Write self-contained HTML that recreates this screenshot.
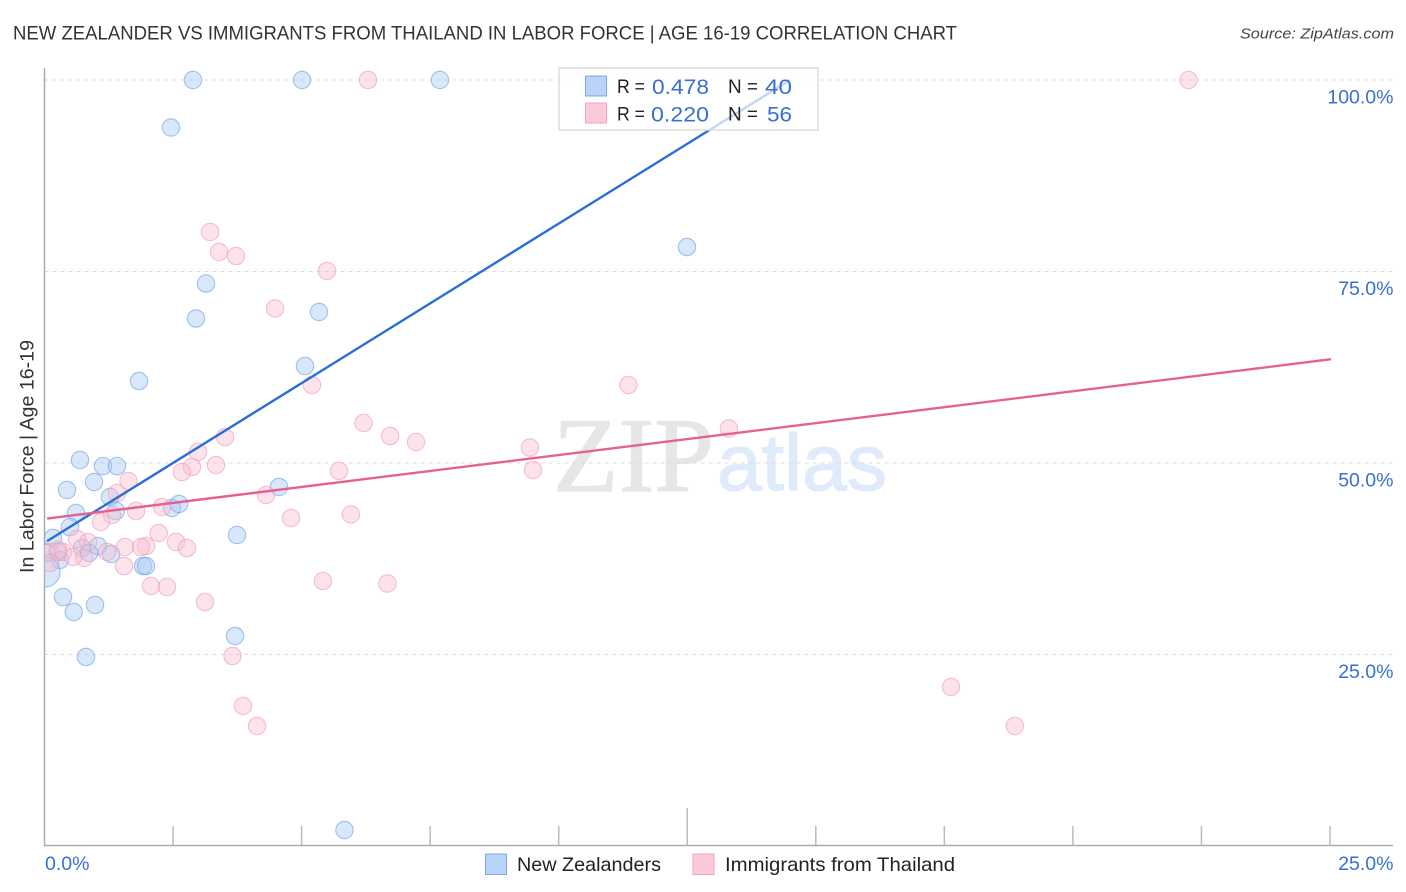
<!DOCTYPE html>
<html lang="en">
<head>
<meta charset="utf-8">
<title>New Zealander vs Immigrants from Thailand in Labor Force Correlation Chart</title>
<style>
html,body{margin:0;padding:0;background:#fff;width:1406px;height:892px;overflow:hidden}
svg{display:block}
text{font-family:"Liberation Sans",sans-serif}
</style>
</head>
<body>
<svg id="chart" width="1406" height="892" viewBox="0 0 1406 892" xmlns="http://www.w3.org/2000/svg">
  <defs>
    <clipPath id="plot-clip"><rect x="44.5" y="60" width="1349" height="786"/></clipPath>
  </defs>
  <text x="13" y="39.5" font-size="19.5" fill="#333" textLength="944" lengthAdjust="spacingAndGlyphs">NEW ZEALANDER VS IMMIGRANTS FROM THAILAND IN LABOR FORCE | AGE 16-19 CORRELATION CHART</text>
  <text x="1394" y="38.5" font-size="15" font-style="italic" fill="#444" text-anchor="end" textLength="154" lengthAdjust="spacingAndGlyphs">Source: ZipAtlas.com</text>

  <g>
    <text x="553" y="491" font-size="106" fill="#e6e6e6" stroke="#e6e6e6" stroke-width="1.2" style="font-family:'Liberation Serif',serif" textLength="161" lengthAdjust="spacingAndGlyphs">ZIP</text>
    <text x="717" y="490" font-size="80" fill="#dfeafa" stroke="#dfeafa" stroke-width="1.2" textLength="170" lengthAdjust="spacingAndGlyphs">atlas</text>
  </g>

  <g id="grid"></g>
  <g id="axes"></g>
  <g id="points" clip-path="url(#plot-clip)"></g>
  <g id="trends"></g>
  <g id="labels"></g>

  <text transform="translate(33.5,456.5) rotate(-90)" font-size="19" fill="#333" text-anchor="middle" textLength="233" lengthAdjust="spacingAndGlyphs">In Labor Force | Age 16-19</text>

  <g>
    <rect x="559" y="68" width="259" height="62" fill="#fff" fill-opacity="0.72" stroke="#ddd" stroke-width="1.5"/>
    <rect x="585.5" y="76" width="21" height="20" fill="#b9d4f8" stroke="#7fa6e0" stroke-width="1"/>
    <rect x="585.5" y="103" width="21" height="20" fill="#fcc9da" stroke="#f0a5bf" stroke-width="1"/>
    <text x="617" y="93" font-size="19" fill="#222" textLength="28" lengthAdjust="spacingAndGlyphs">R =</text>
    <text x="652" y="94" font-size="21.5" fill="#3a6fd0" textLength="57" lengthAdjust="spacingAndGlyphs">0.478</text>
    <text x="728" y="93" font-size="19" fill="#222" textLength="30" lengthAdjust="spacingAndGlyphs">N =</text>
    <text x="765" y="94" font-size="21.5" fill="#3a6fd0" textLength="27" lengthAdjust="spacingAndGlyphs">40</text>
    <text x="617" y="120.5" font-size="19" fill="#222" textLength="28" lengthAdjust="spacingAndGlyphs">R =</text>
    <text x="651" y="121.5" font-size="21.5" fill="#3a6fd0" textLength="58" lengthAdjust="spacingAndGlyphs">0.220</text>
    <text x="728" y="120.5" font-size="19" fill="#222" textLength="30" lengthAdjust="spacingAndGlyphs">N =</text>
    <text x="767" y="121.5" font-size="21.5" fill="#3a6fd0" textLength="25" lengthAdjust="spacingAndGlyphs">56</text>
  </g>

  <g>
    <rect x="485.5" y="854" width="21" height="20.5" fill="#b9d4f8" stroke="#7fa6e0" stroke-width="1"/>
    <text x="517" y="871" font-size="19.5" fill="#222" textLength="144" lengthAdjust="spacingAndGlyphs">New Zealanders</text>
    <rect x="693" y="854" width="21" height="20.5" fill="#fcc9da" stroke="#f0a5bf" stroke-width="1"/>
    <text x="725" y="871" font-size="19.5" fill="#222" textLength="230" lengthAdjust="spacingAndGlyphs">Immigrants from Thailand</text>
  </g>
</svg>
<script>
const yGridValues = [100, 75, 50, 25];
const yTickLabels = ["100.0%", "75.0%", "50.0%", "25.0%"];
const xTickValues = [0, 2.5, 5, 7.5, 10, 12.5, 15, 17.5, 20, 22.5, 25];
const xEdgeLabels = ["0.0%", "25.0%"];

const blueX = [2.888,5.008,7.69,2.46,12.495,3.14,2.946,5.338,5.066,1.838,0.69,1.138,1.41,0.963,0.438,1.274,1.39,0.613,2.48,2.616,4.56,0.496,3.744,0.165,1.04,0.73,0.865,1.293,0.263,0.30,0.05,1.916,1.974,0.36,0.982,0.568,3.705,0.807,5.834,0.01];
const blueY = [100,100,100,93.8,78.2,73.43,68.86,69.71,62.66,60.7,50.39,49.6,49.6,47.52,46.48,45.56,43.73,43.47,44.13,44.65,46.87,41.64,40.6,40.21,39.16,38.9,38.25,38.12,38.38,37.34,38.25,36.55,36.55,32.5,31.46,30.55,27.42,24.67,2.09,35.77];
const blueWeight = [1,1,1,1,1,1,1,1,1,1,1,1,1,1,1,1,1,1,1,1,1,1,1,1,1,1,1,1,1,1,1,1,1,1,1,1,1,1,1,3];

const pinkX = [6.29,22.25,3.219,3.394,3.724,5.494,4.483,5.202,11.357,6.204,13.31,3.51,6.72,7.225,9.44,2.985,2.868,3.335,2.674,5.727,9.5,1.634,1.41,4.308,1.313,1.78,2.285,1.099,4.794,5.96,2.221,2.557,2.771,1.974,1.877,0.846,0.632,1.566,1.215,0.36,0.768,0.554,1.546,2.071,2.382,5.416,6.67,3.121,3.656,17.63,3.86,4.133,18.87,0.107,0.263,0.107];
const pinkY = [100,100,80.16,77.55,77.02,75.07,70.17,60.18,60.18,55.22,54.5,53.39,53.52,52.74,52.02,51.44,49.48,49.74,48.83,48.96,49.09,47.65,46.08,45.82,43.21,43.73,44.26,42.3,42.82,43.28,40.86,39.69,38.9,39.16,39.03,39.69,40.08,39.03,38.38,38.38,37.6,37.73,36.55,33.94,33.81,34.6,34.27,31.85,24.8,20.76,18.28,15.67,15.67,38.38,38.64,36.95];

const blueTrendX = [0.05, 14.5];
const blueTrendY = [39.8, 100];
const pinkTrendX = [0.05, 25.02];
const pinkTrendY = [42.75, 63.55];

function xScale(v) { return 44.5 + v * 51.42; }
function yScale(v) { return 846 - v * 7.66; }
const SVG_NS = "http://www.w3.org/2000/svg";
function make(tag, parent, attrs) {
  const el = document.createElementNS(SVG_NS, tag);
  for (const k in attrs) el.setAttribute(k, attrs[k]);
  parent.appendChild(el);
  return el;
}

const gridG = document.getElementById("grid");
const axesG = document.getElementById("axes");
const pointsG = document.getElementById("points");
const trendsG = document.getElementById("trends");
const labelsG = document.getElementById("labels");

yGridValues.forEach(function (v, i) {
  const line = make("line", gridG, {x1: 44.5, x2: 1393, y1: yScale(v), y2: yScale(v), stroke: "#dcdcdc", "stroke-width": 1, "stroke-dasharray": "4 4"});
  
  
  const label = make("text", labelsG, {x: 1393.5, y: yScale(v) + 23.5, "font-size": 19.5, fill: "#3a6fd0", "text-anchor": "end"});
  
  
  label.textContent = yTickLabels[i];
});

const yAxis = make("line", axesG, {x1: 44.5, x2: 44.5, y1: 68, y2: 846, stroke: "#aaa", "stroke-width": 1.5});


const xAxis = make("line", axesG, {x1: 44, x2: 1393, y1: 845.5, y2: 845.5, stroke: "#aaa", "stroke-width": 1.5});



xTickValues.forEach(function (v, i) {
  if (i === 0) return;
  const isMid = v === 12.5;
  const tick = make("line", axesG, {x1: xScale(v), x2: xScale(v), y1: isMid ? 808 : 826, y2: 845, stroke: "#bbb", "stroke-width": 1.5});
  
  
});

const xLabelLeft = make("text", labelsG, {x: 45, y: 870, "font-size": 19.5, fill: "#3a6fd0"});


xLabelLeft.textContent = xEdgeLabels[0];
const xLabelRight = make("text", labelsG, {x: 1393.5, y: 870, "font-size": 19.5, fill: "#3a6fd0", "text-anchor": "end"});


xLabelRight.textContent = xEdgeLabels[1];

blueX.forEach(function (v, i) {
  const c = make("circle", pointsG, {cx: xScale(v), cy: yScale(blueY[i]), r: 8.7 * Math.sqrt(blueWeight[i]), fill: "#a9c9f3", "fill-opacity": 0.45, stroke: "#6c9fe0", "stroke-opacity": 0.6, "stroke-width": 1.1});
  
  
});
pinkX.forEach(function (v, i) {
  const c = make("circle", pointsG, {cx: xScale(v), cy: yScale(pinkY[i]), r: 8.7, fill: "#f9bccf", "fill-opacity": 0.42, stroke: "#f09ab5", "stroke-opacity": 0.6, "stroke-width": 1.1});
  
  
});

const blueLine = make("line", trendsG, {x1: xScale(blueTrendX[0]), y1: yScale(blueTrendY[0]), x2: xScale(blueTrendX[1]), y2: yScale(blueTrendY[1]), stroke: "#2a6fd6", "stroke-width": 2.4});


const pinkLine = make("line", trendsG, {x1: xScale(pinkTrendX[0]), y1: yScale(pinkTrendY[0]), x2: xScale(pinkTrendX[1]), y2: yScale(pinkTrendY[1]), stroke: "#e8608f", "stroke-width": 2.4});


</script>
</body>
</html>
